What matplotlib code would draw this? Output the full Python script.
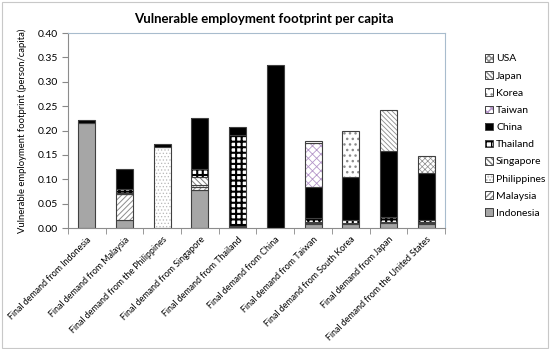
import matplotlib
matplotlib.use("Agg")
import matplotlib.pyplot as plt
import numpy as np
from matplotlib.patches import Patch, Rectangle

categories = [
    "Final demand from Indonesia",
    "Final demand from Malaysia",
    "Final demand from the Philippines",
    "Final demand from Singapore",
    "Final demand from Thailand",
    "Final demand from China",
    "Final demand from Taiwan",
    "Final demand from South Korea",
    "Final demand from Japan",
    "Final demand from the United States",
]

# stacked from bottom to top
indonesia = [0.215, 0.017, 0.001, 0.078, 0.003, 0.000, 0.008, 0.008, 0.010, 0.008]
malaysia = [0.000, 0.052, 0.000, 0.006, 0.001, 0.000, 0.002, 0.002, 0.003, 0.003]
philippines = [0.000, 0.001, 0.166, 0.004, 0.000, 0.000, 0.000, 0.000, 0.000, 0.000]
singapore = [0.000, 0.002, 0.000, 0.016, 0.001, 0.000, 0.003, 0.000, 0.000, 0.002]
thailand = [0.000, 0.008, 0.000, 0.018, 0.186, 0.000, 0.008, 0.006, 0.010, 0.004]
china = [0.007, 0.041, 0.006, 0.103, 0.017, 0.334, 0.064, 0.089, 0.135, 0.096]
taiwan = [0.000, 0.000, 0.000, 0.000, 0.000, 0.000, 0.089, 0.000, 0.000, 0.000]
korea = [0.000, 0.000, 0.000, 0.000, 0.000, 0.000, 0.004, 0.095, 0.000, 0.000]
japan = [0.000, 0.000, 0.000, 0.000, 0.000, 0.000, 0.000, 0.000, 0.085, 0.000]
usa = [0.000, 0.000, 0.000, 0.000, 0.000, 0.000, 0.000, 0.000, 0.000, 0.035]

series_names = ["Indonesia", "Malaysia", "Philippines", "Singapore", "Thailand",
                "China", "Taiwan", "Korea", "Japan", "USA"]
series_values = [indonesia, malaysia, philippines, singapore, thailand,
                 china, taiwan, korea, japan, usa]

# face colour, hatch colour, hatch, hatch line width
styles = {
    "Indonesia": ("#a6a6a6", "#a6a6a6", None, 1.0),
    "Malaysia": ("white", "#8c8c8c", "//////", 0.7),
    "Philippines": ("white", "#b8b8b8", ".....", 0.5),
    "Singapore": ("white", "#7a7a7a", "\\\\\\\\\\\\", 0.7),
    "Thailand": ("white", "black", "+++", 1.5),
    "China": ("black", "black", None, 1.0),
    "Taiwan": ("white", "#b496c8", "xxxx", 0.6),
    "Korea": ("white", "#8c8c8c", "...", 1.0),
    "Japan": ("white", "#8c8c8c", "\\\\\\\\\\\\\\", 0.6),
    "USA": ("white", "#8c8c8c", "xxxxxx", 0.5),
}

plt.rcParams["font.family"] = ["Lato", "DejaVu Sans"]

fig = plt.figure(figsize=(5.5, 3.49), dpi=100)
ax = fig.add_axes([0.1236, 0.3467, 0.6855, 0.5587])

x = np.arange(len(categories))
width = 0.45
bottom = np.zeros(len(categories))
handles = []
for name, values in zip(series_names, series_values):
    values = np.array(values)
    face, hcolor, hatch, hlw = styles[name]
    mask = values > 0
    fill_bars = ax.bar(x[mask], values[mask], width, bottom=bottom[mask], color=face,
                       edgecolor=hcolor, hatch=hatch, linewidth=0)
    for bar in fill_bars:
        if hasattr(bar, "set_hatch_linewidth"):
            bar.set_hatch_linewidth(hlw)
    ax.bar(x[mask], values[mask], width, bottom=bottom[mask], fill=False,
           edgecolor="#404040", linewidth=0.8)
    bottom = bottom + values
    face_patch = Patch(facecolor=face, edgecolor=hcolor, hatch=hatch, linewidth=0)
    if hasattr(face_patch, "set_hatch_linewidth"):
        face_patch.set_hatch_linewidth(min(hlw, 1.2))
    edge_patch = Patch(fill=False, edgecolor="#404040", linewidth=0.7)
    handles.append((face_patch, edge_patch))

ax.set_xlim(-0.5, len(categories) - 0.5)
ax.set_ylim(0, 0.40)
ax.set_yticks(np.arange(0, 0.401, 0.05))
ax.set_yticklabels([f"{v:.2f}" for v in np.arange(0, 0.401, 0.05)], fontsize=7.5)
ax.set_xticks(x)
ax.set_xticklabels(categories, rotation=45, ha="right", rotation_mode="anchor", fontsize=6.4)
ax.tick_params(axis="x", which="major", length=0, pad=5)
ax.set_xticks(np.arange(-0.5, len(categories), 1), minor=True)
ax.tick_params(axis="x", which="minor", length=4, color="#888888")
ax.tick_params(axis="y", length=4, color="#888888", pad=3)
for side in ["top", "right"]:
    ax.spines[side].set_color("#a8bccd")
    ax.spines[side].set_linewidth(0.8)
for side in ["left", "bottom"]:
    ax.spines[side].set_color("#8c8c8c")
    ax.spines[side].set_linewidth(0.8)

ax.set_ylabel("Vulnerable employment footprint (person/capita)", fontsize=6.8, labelpad=8)
fig.text(0.48, 0.945, "Vulnerable employment footprint per capita", ha="center",
         va="center", fontsize=9.5, fontweight="bold")

legend_labels = ["USA", "Japan", "Korea", "Taiwan", "China",
                 "Thailand", "Singapore", "Philippines", "Malaysia", "Indonesia"]
fig.legend(handles[::-1], legend_labels,
           loc="upper left", bbox_to_anchor=(0.865, 0.872), frameon=False, fontsize=7.5,
           handlelength=0.75, handleheight=0.75, handletextpad=0.3, labelspacing=0.74)

fig.patches.append(Rectangle((0.004, 0.004), 0.992, 0.99, transform=fig.transFigure,
                             fill=False, edgecolor="#c8c8c8", linewidth=0.8))

fig.savefig("out.png", dpi=100)
